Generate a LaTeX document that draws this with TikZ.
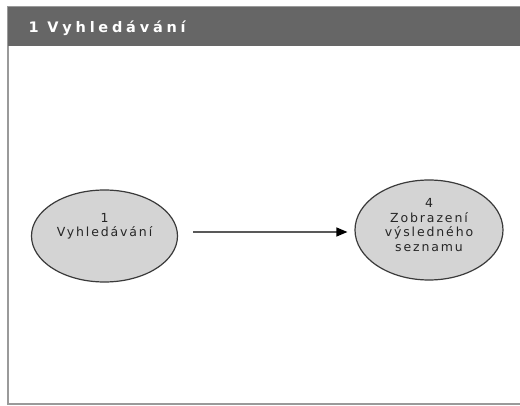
\documentclass[tikz,border=0pt]{standalone}
\usepackage{fontspec}
\setmainfont{DejaVu Sans}
\usetikzlibrary{shapes.geometric,arrows.meta}

\definecolor{hdrgray}{HTML}{666666}
\definecolor{framegray}{HTML}{9A9A9A}
\definecolor{procfill}{HTML}{D4D4D4}
\definecolor{procline}{HTML}{3A3A3A}

\tikzset{
	proc/.style={ellipse, draw=procline, fill=procfill, line width=1.2pt, inner sep=0pt},
	proctext/.style={align=center, text=black!85, font=\fontsize{12.5}{14.5}\selectfont\addfontfeature{LetterSpace=15}},
	flow/.style={-{Triangle[length=11pt,width=9pt,color=black]}, line width=1.2pt, draw=black!65}
}

\begin{document}
\begin{tikzpicture}[x=1pt,y=-1pt]
	\useasboundingbox (0,0) rectangle (520,406);
	\clip (0,0) rectangle (520,406);

	% Frame and header
	\draw[framegray, line width=1.5pt, fill=white] (8,7) rectangle (540,404);
	\fill[hdrgray] (8,7) rectangle (540,46);
	\node[anchor=west, text=white, font=\fontsize{14.5}{16}\selectfont\bfseries\addfontfeature{LetterSpace=26}] (title) at (25,28) {1 Vyhledávání};

	% Processes
	\node[proc, minimum width=146pt, minimum height=92pt] (vyhl) at (104.5,236) {};
	\node[proctext] (vyhltext) at ([yshift=10pt]vyhl.center) {1\\Vyhledávání};

	\node[proc, minimum width=148pt, minimum height=100pt] (zobr) at (429,230) {};
	\node[proctext] (zobrtext) at ([yshift=5pt]zobr.center) {4\\Zobrazení\\výsledného\\seznamu};

	% Flow
	\draw[flow, shorten <=15pt, shorten >=7pt] (vyhl.east |- 0,232) -- (zobr.west |- 0,232);

\end{tikzpicture}
\end{document}
